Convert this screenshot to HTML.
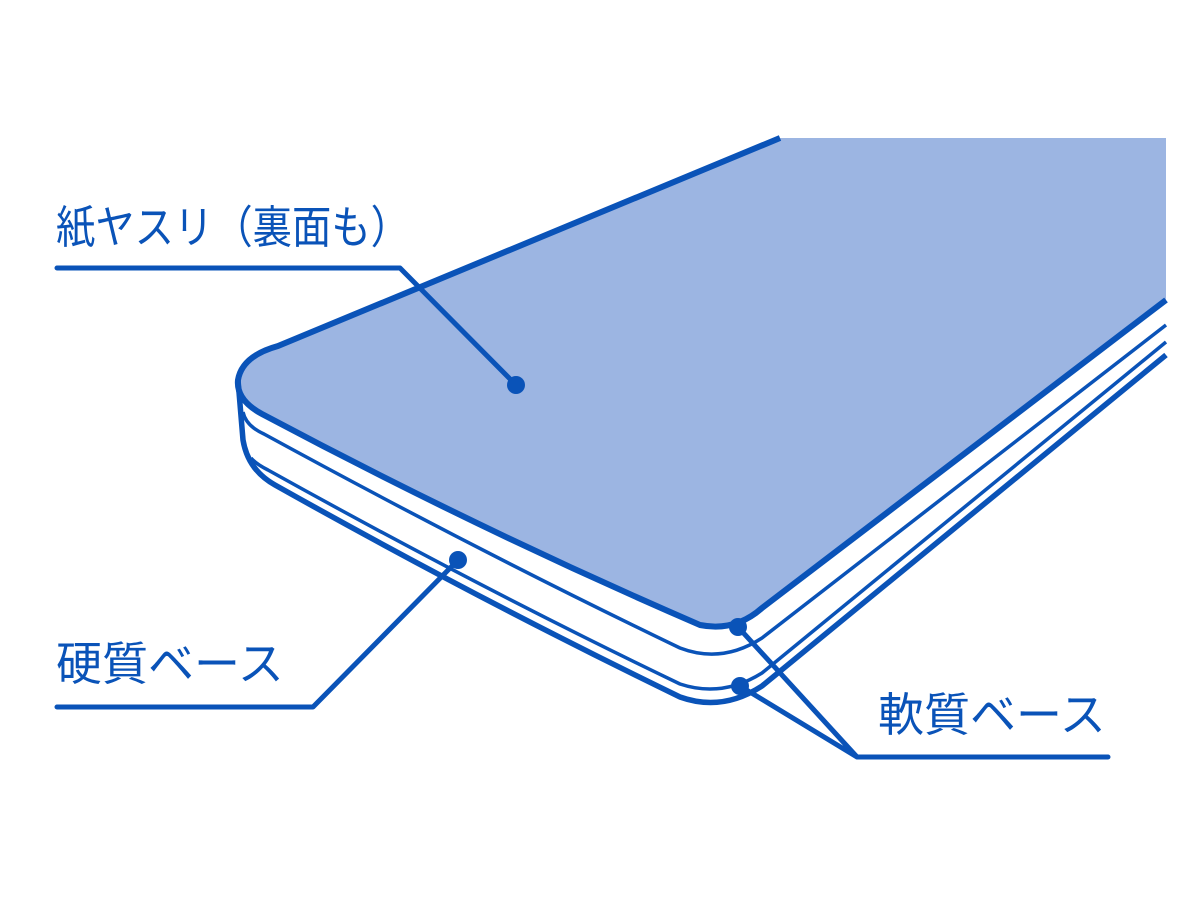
<!DOCTYPE html>
<html><head><meta charset="utf-8"><style>
html,body{margin:0;padding:0;background:#fff;width:1200px;height:900px;overflow:hidden}
svg{display:block}
text{font-family:"Liberation Sans","Noto Sans CJK JP",sans-serif;fill:#0a53b8}
</style></head><body>
<svg width="1200" height="900" viewBox="0 0 1200 900">
<path d="M780,138 L1166,138 L1166,300 L762,608 Q735,632 700,625 Q480,530 262,414 Q236,400 238,380 Q242,356 278,346 Z" fill="#9cb5e2" stroke="none"/>
<g fill="none" stroke="#0a53b8" stroke-linejoin="round" stroke-linecap="round">
<path d="M780,138 L278,346 Q242,356 238,380 Q236,400 262,414 Q480,530 700,625 Q735,632 762,608 L1166,300" stroke-width="6" stroke-linecap="butt"/>
<path d="M243,412 Q246,426 264,434 Q480,552 680,648 Q722,664 762,638 L1166,325" stroke-width="3.5" stroke-linecap="butt"/>
<path d="M251,458 Q256,464 268,470 Q480,588 680,684 Q722,698 762,673 L1166,342" stroke-width="3.5" stroke-linecap="butt"/>
<path d="M238,380 L243,440 Q248,470 275,485 Q480,600 680,697 Q722,712 762,686 L1166,355" stroke-width="5.5" stroke-linecap="butt"/>
<path d="M57,268 L400,268 L516,385" stroke-width="5"/>
<path d="M57,707 L313,707 L458,560" stroke-width="5"/>
<path d="M1108,757 L857,757 L738,627 M857,757 L740,686" stroke-width="5"/>
</g>
<g fill="#0a53b8">
<circle cx="516" cy="385" r="9"/>
<circle cx="458" cy="560" r="9"/>
<circle cx="738" cy="627" r="9"/>
<circle cx="740" cy="686" r="9"/>
</g>
<text x="56" y="243" font-size="45" textLength="354" lengthAdjust="spacingAndGlyphs">紙ヤスリ（裏面も）</text>
<text x="56" y="680" font-size="46">硬質ベース</text>
<text x="878" y="731" font-size="46">軟質ベース</text>
</svg>
</body></html>
